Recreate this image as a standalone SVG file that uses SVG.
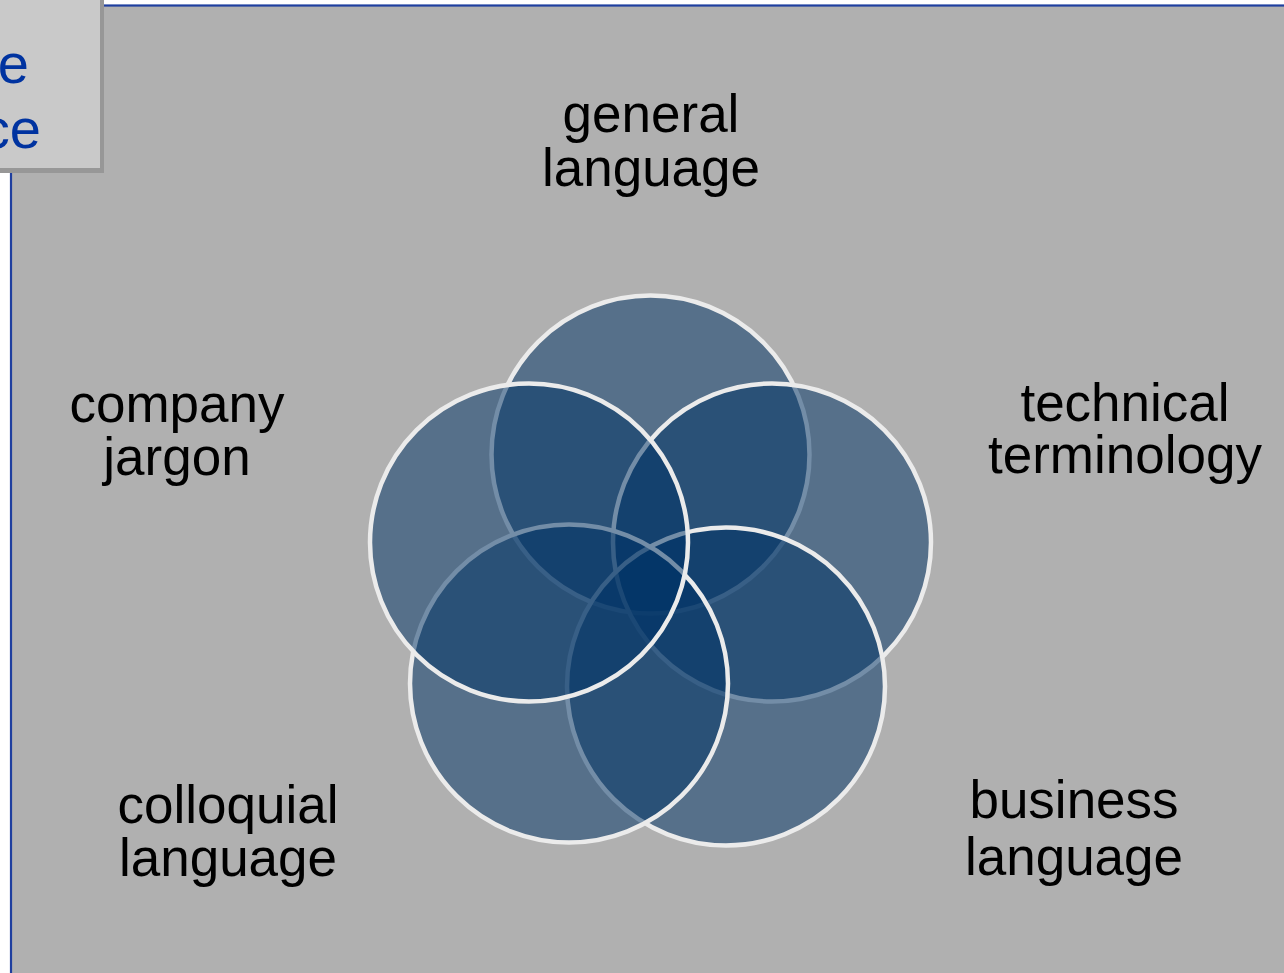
<svg xmlns="http://www.w3.org/2000/svg" width="1284" height="973" viewBox="0 0 1284 973">
  <style>
    .label { font-family: "Liberation Sans", Arial, sans-serif; font-size: 53px; fill: #000000; text-anchor: middle; }
    .tab { font-family: "Liberation Sans", Arial, sans-serif; font-size: 56px; fill: #0033a0; text-anchor: end; }
    .set { fill: #003366; fill-opacity: 0.51; stroke: #ebebeb; stroke-width: 4.5; }
  </style>

  <!-- page and panel -->
  <rect x="0" y="0" width="1284" height="973" fill="#ffffff"/>
  <rect x="11" y="5.5" width="1280" height="980" fill="#b0b0b0" stroke="#1f3f9f" stroke-width="2.2"/>

  <!-- corner tab with drop shadow -->
  <g id="corner-tab">
    <rect x="-10" y="-10" width="114" height="183" fill="#979797"/>
    <rect x="-10" y="-10" width="110" height="178" fill="#c9c9c9"/>
    <text class="tab" x="29" y="83">e</text>
    <text class="tab" x="41" y="148">ce</text>
  </g>

  <!-- overlapping sets -->
  <g id="sets">
    <circle id="set-general" class="set" cx="650.5" cy="454.5" r="159"/>
    <circle id="set-technical" class="set" cx="772" cy="542.5" r="159"/>
    <circle id="set-business" class="set" cx="726" cy="686.5" r="159"/>
    <circle id="set-colloquial" class="set" cx="569" cy="683.5" r="159"/>
    <circle id="set-company" class="set" cx="529" cy="542.5" r="159"/>
  </g>

  <!-- labels -->
  <g id="label-general">
    <text class="label" x="651" y="132">general</text>
    <text class="label" x="651" y="186">language</text>
  </g>
  <g id="label-technical">
    <text class="label" x="1125" y="421">technical</text>
    <text class="label" x="1125" y="473">terminology</text>
  </g>
  <g id="label-company">
    <text class="label" x="177" y="422">company</text>
    <text class="label" x="177" y="475">jargon</text>
  </g>
  <g id="label-colloquial">
    <text class="label" x="228" y="823">colloquial</text>
    <text class="label" x="228" y="876">language</text>
  </g>
  <g id="label-business">
    <text class="label" x="1074" y="818">business</text>
    <text class="label" x="1074" y="875">language</text>
  </g>
</svg>
